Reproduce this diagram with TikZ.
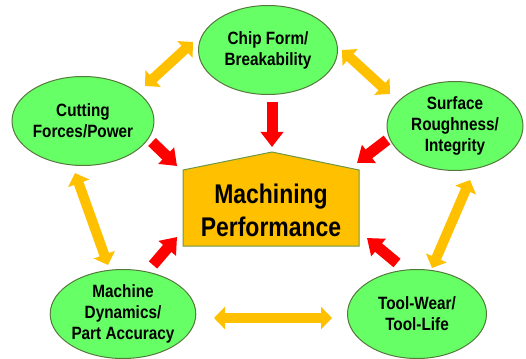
\documentclass[tikz,border=0pt]{standalone}
\usepackage{fontspec}
\setmainfont{Liberation Sans}
\newfontfamily\smallf{Liberation Sans}[FakeStretch=0.86]
\newfontfamily\bigf{Liberation Sans}[FakeStretch=0.85]
\usetikzlibrary{shapes.geometric,arrows.meta}
\definecolor{ellfill}{RGB}{102,255,102}
\definecolor{elldraw}{RGB}{85,120,60}
\definecolor{orng}{RGB}{255,192,0}
\definecolor{pentdraw}{RGB}{110,150,70}
\tikzset{
  bubble/.style={ellipse, draw=elldraw, line width=1pt, fill=ellfill, inner sep=0pt,
    minimum width=139pt, minimum height=89pt, align=center,
    font=\smallf\bfseries\fontsize{17.8}{21}\selectfont},
  redarrow/.style={draw=red, line width=11pt, -{Triangle[width=22pt,length=15pt]}, color=red},
  orarrow/.style={draw=orng, line width=10pt, {Triangle[width=22pt,length=11pt]}-{Triangle[width=22pt,length=11pt]}, color=orng},
}
\begin{document}
\begin{tikzpicture}[x=1pt,y=-1pt]
\useasboundingbox (0,0) rectangle (526,358);
% pentagon
\draw[draw=pentdraw, line width=1pt, fill=orng] (183,170) -- (272,152) -- (359,170) -- (359,246) -- (183,246) -- cycle;
\node[align=center, font=\bigf\bfseries\fontsize{27}{33}\selectfont] (mp) at (271,210) {Machining\\Performance};
% ellipses
\node[bubble] (chip) at (268,50) {Chip Form/\\Breakability};
\node[bubble] (cut) at (83,121) {Cutting\\Forces/Power};
\node[bubble, minimum width=136pt] (surf) at (455,126) {Surface\\Roughness/\\Integrity};
\node[bubble] (mach) at (123,314) {Machine\\Dynamics/\\Part Accuracy};
\node[bubble] (tool) at (417,314) {Tool-Wear/\\Tool-Life};
% arrow end points
\coordinate (r1a) at (272,102); \coordinate (r1b) at (272,147);
\coordinate (r2a) at (152,142); \coordinate (r2b) at (177,166);
\coordinate (r3a) at (387,140); \coordinate (r3b) at (357,163);
\coordinate (r4a) at (153,265); \coordinate (r4b) at (177,237);
\coordinate (r5a) at (397,263); \coordinate (r5b) at (367,238);
\coordinate (o1a) at (145,86); \coordinate (o1b) at (193,42);
\coordinate (o2a) at (342,50); \coordinate (o2b) at (390,94);
\coordinate (o3a) at (75,173); \coordinate (o3b) at (108,265);
\coordinate (o4a) at (470,180); \coordinate (o4b) at (432,268);
\coordinate (o5a) at (214,318); \coordinate (o5b) at (332,318);
% red arrows
\draw[redarrow] (r1a) -- (r1b);
\draw[redarrow] (r2a) -- (r2b);
\draw[redarrow] (r3a) -- (r3b);
\draw[redarrow] (r4a) -- (r4b);
\draw[redarrow] (r5a) -- (r5b);
% orange arrows
\draw[orarrow] (o1a) -- (o1b);
\draw[orarrow] (o2a) -- (o2b);
\draw[orarrow] (o3a) -- (o3b);
\draw[orarrow] (o4a) -- (o4b);
\draw[orarrow] (o5a) -- (o5b);
\end{tikzpicture}
\end{document}
